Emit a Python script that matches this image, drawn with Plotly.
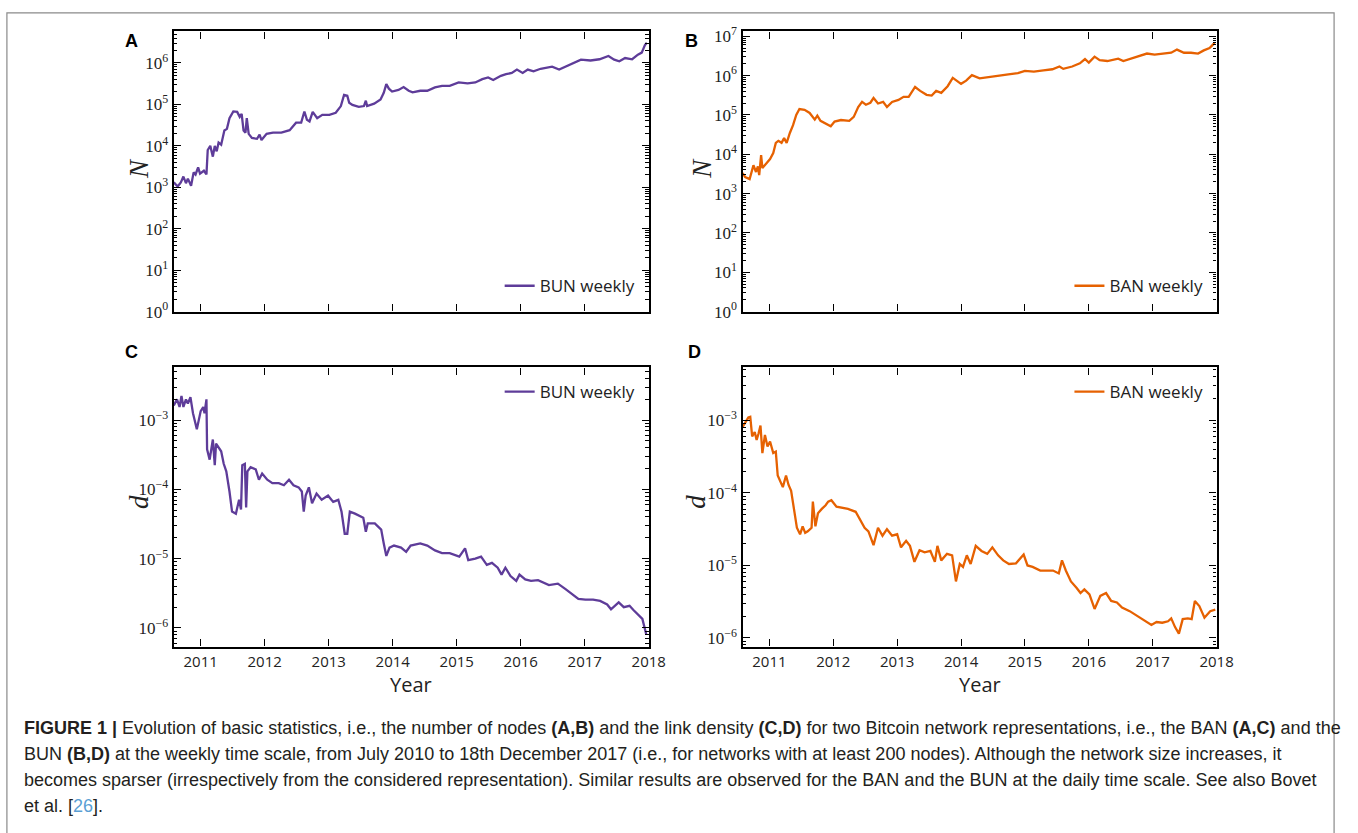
import plotly.graph_objects as go

# ---------------- data (decimal year, log10 value) ----------------
bun_N_year = [2010.58, 2010.64, 2010.69, 2010.73, 2010.77, 2010.80, 2010.85, 2010.89, 2010.92, 2010.96,
              2010.99, 2011.05, 2011.09, 2011.11, 2011.15, 2011.19, 2011.22, 2011.25, 2011.28, 2011.32,
              2011.37, 2011.41, 2011.45, 2011.51, 2011.57, 2011.61, 2011.64, 2011.67, 2011.70, 2011.72,
              2011.75, 2011.80, 2011.88, 2011.92, 2011.95, 2012.03, 2012.13, 2012.26, 2012.39, 2012.49,
              2012.57, 2012.62, 2012.66, 2012.70, 2012.75, 2012.82, 2012.90, 2013.01, 2013.11, 2013.19,
              2013.24, 2013.29, 2013.32, 2013.37, 2013.47, 2013.55, 2013.58, 2013.60, 2013.71, 2013.81,
              2013.86, 2013.90, 2013.94, 2013.99, 2014.09, 2014.17, 2014.25, 2014.31, 2014.43, 2014.54,
              2014.66, 2014.77, 2014.89, 2015.03, 2015.17, 2015.29, 2015.40, 2015.49, 2015.57, 2015.69,
              2015.77, 2015.86, 2015.94, 2016.03, 2016.11, 2016.20, 2016.31, 2016.49, 2016.60, 2016.71,
              2016.83, 2016.94, 2017.09, 2017.23, 2017.37, 2017.46, 2017.54, 2017.63, 2017.74, 2017.83,
              2017.89, 2017.94, 2017.97]
bun_N_log = [3.12, 3.02, 3.12, 3.26, 3.10, 3.21, 3.04, 3.36, 3.31, 3.48,
             3.33, 3.40, 3.31, 3.90, 4.00, 3.74, 4.00, 3.87, 4.08, 4.03,
             4.37, 4.41, 4.67, 4.83, 4.82, 4.70, 4.77, 4.37, 4.32, 4.67,
             4.29, 4.19, 4.17, 4.27, 4.14, 4.29, 4.32, 4.32, 4.38, 4.56,
             4.56, 4.83, 4.63, 4.59, 4.82, 4.67, 4.75, 4.75, 4.80, 4.96,
             5.23, 5.21, 5.04, 4.99, 4.94, 4.96, 5.09, 4.96, 5.02, 5.12,
             5.28, 5.49, 5.38, 5.31, 5.35, 5.42, 5.33, 5.29, 5.33, 5.33,
             5.41, 5.45, 5.45, 5.53, 5.51, 5.53, 5.61, 5.65, 5.59, 5.69,
             5.73, 5.76, 5.84, 5.76, 5.84, 5.80, 5.86, 5.91, 5.84, 5.92,
             6.00, 6.08, 6.06, 6.09, 6.17, 6.08, 6.04, 6.12, 6.09, 6.20,
             6.25, 6.43, 6.49]

ban_N_year = [2010.58, 2010.62, 2010.69, 2010.75, 2010.79, 2010.82, 2010.84, 2010.87, 2010.89, 2010.96,
              2011.01, 2011.06, 2011.10, 2011.14, 2011.19, 2011.23, 2011.27, 2011.32, 2011.37, 2011.42,
              2011.47, 2011.55, 2011.63, 2011.71, 2011.75, 2011.80, 2011.89, 2011.96, 2012.02, 2012.12,
              2012.25, 2012.32, 2012.39, 2012.45, 2012.51, 2012.58, 2012.63, 2012.70, 2012.78, 2012.84,
              2012.92, 2013.02, 2013.10, 2013.18, 2013.28, 2013.36, 2013.46, 2013.54, 2013.61, 2013.69,
              2013.79, 2013.87, 2013.93, 2014.00, 2014.08, 2014.17, 2014.29, 2014.46, 2014.60, 2014.74,
              2014.89, 2015.00, 2015.14, 2015.29, 2015.43, 2015.54, 2015.60, 2015.74, 2015.86, 2015.94,
              2016.00, 2016.09, 2016.17, 2016.29, 2016.46, 2016.54, 2016.69, 2016.80, 2016.91, 2017.03,
              2017.17, 2017.29, 2017.38, 2017.49, 2017.60, 2017.71, 2017.80, 2017.89, 2017.97]
ban_N_log = [3.52, 3.42, 3.37, 3.72, 3.55, 3.69, 3.47, 3.98, 3.65, 3.78,
             3.88, 4.03, 4.29, 4.34, 4.29, 4.41, 4.29, 4.54, 4.74, 5.00,
             5.15, 5.13, 5.05, 4.88, 4.98, 4.85, 4.78, 4.71, 4.83, 4.87,
             4.85, 4.95, 5.20, 5.33, 5.26, 5.31, 5.43, 5.29, 5.33, 5.20,
             5.33, 5.38, 5.46, 5.46, 5.71, 5.61, 5.51, 5.49, 5.61, 5.56,
             5.73, 5.94, 5.87, 5.79, 5.87, 6.01, 5.93, 5.96, 6.00, 6.03,
             6.06, 6.12, 6.10, 6.13, 6.16, 6.23, 6.17, 6.23, 6.31, 6.42,
             6.33, 6.48, 6.39, 6.37, 6.43, 6.37, 6.45, 6.50, 6.56, 6.53,
             6.56, 6.58, 6.66, 6.58, 6.58, 6.56, 6.64, 6.70, 6.83]

bun_d_year = [2010.58, 2010.63, 2010.67, 2010.70, 2010.73, 2010.77, 2010.80, 2010.84, 2010.88, 2010.94,
              2011.00, 2011.04, 2011.06, 2011.09, 2011.10, 2011.14, 2011.19, 2011.22, 2011.24, 2011.28,
              2011.32, 2011.36, 2011.40, 2011.45, 2011.49, 2011.55, 2011.60, 2011.63, 2011.65, 2011.69,
              2011.71, 2011.73, 2011.78, 2011.86, 2011.91, 2011.96, 2012.04, 2012.12, 2012.22, 2012.30,
              2012.38, 2012.45, 2012.53, 2012.58, 2012.61, 2012.64, 2012.69, 2012.74, 2012.81, 2012.89,
              2012.99, 2013.07, 2013.15, 2013.20, 2013.25, 2013.29, 2013.33, 2013.41, 2013.54, 2013.58,
              2013.61, 2013.72, 2013.82, 2013.86, 2013.90, 2013.95, 2014.02, 2014.13, 2014.21, 2014.28,
              2014.43, 2014.54, 2014.66, 2014.77, 2014.89, 2015.04, 2015.13, 2015.18, 2015.29, 2015.38,
              2015.47, 2015.55, 2015.64, 2015.70, 2015.76, 2015.84, 2015.93, 2015.98, 2016.07, 2016.16,
              2016.27, 2016.44, 2016.58, 2016.70, 2016.81, 2016.90, 2017.01, 2017.13, 2017.24, 2017.35,
              2017.41, 2017.53, 2017.61, 2017.70, 2017.76, 2017.84, 2017.90, 2017.96]
bun_d_log = [-2.79, -2.70, -2.81, -2.65, -2.81, -2.70, -2.76, -2.67, -2.90, -3.13,
             -2.87, -2.81, -2.90, -2.70, -3.42, -3.57, -3.28, -3.65, -3.34, -3.39,
             -3.45, -3.63, -3.74, -4.03, -4.32, -4.35, -4.15, -4.29, -3.65, -3.63,
             -4.26, -3.74, -3.68, -3.71, -3.86, -3.77, -3.86, -3.91, -3.91, -3.94,
             -3.86, -3.94, -3.97, -4.03, -4.32, -4.09, -3.97, -4.20, -4.06, -4.15,
             -4.09, -4.18, -4.15, -4.32, -4.64, -4.64, -4.32, -4.35, -4.41, -4.61,
             -4.49, -4.49, -4.58, -4.78, -4.96, -4.84, -4.81, -4.84, -4.90, -4.81,
             -4.78, -4.81, -4.88, -4.92, -4.92, -4.97, -4.85, -5.02, -5.00, -4.97,
             -5.09, -5.06, -5.13, -5.23, -5.13, -5.25, -5.32, -5.23, -5.30, -5.32,
             -5.31, -5.38, -5.36, -5.44, -5.51, -5.58, -5.59, -5.59, -5.61, -5.66,
             -5.73, -5.63, -5.70, -5.68, -5.74, -5.81, -5.87, -6.09]

ban_d_year = [2010.58, 2010.63, 2010.67, 2010.70, 2010.73, 2010.77, 2010.80, 2010.83, 2010.86, 2010.89,
              2010.93, 2010.97, 2011.01, 2011.06, 2011.10, 2011.13, 2011.17, 2011.21, 2011.26, 2011.30,
              2011.34, 2011.38, 2011.43, 2011.48, 2011.52, 2011.56, 2011.60, 2011.66, 2011.68, 2011.72,
              2011.76, 2011.82, 2011.88, 2011.92, 2011.97, 2012.05, 2012.14, 2012.23, 2012.35, 2012.43,
              2012.49, 2012.55, 2012.63, 2012.70, 2012.77, 2012.84, 2012.92, 2013.00, 2013.06, 2013.14,
              2013.20, 2013.27, 2013.35, 2013.43, 2013.52, 2013.59, 2013.63, 2013.69, 2013.78, 2013.86,
              2013.92, 2013.98, 2014.03, 2014.09, 2014.15, 2014.23, 2014.32, 2014.41, 2014.49, 2014.58,
              2014.66, 2014.75, 2014.86, 2014.98, 2015.04, 2015.12, 2015.24, 2015.35, 2015.44, 2015.53,
              2015.58, 2015.64, 2015.72, 2015.81, 2015.87, 2015.93, 2016.01, 2016.09, 2016.18, 2016.27,
              2016.35, 2016.44, 2016.52, 2016.64, 2016.75, 2016.87, 2016.98, 2017.06, 2017.15, 2017.24,
              2017.29, 2017.35, 2017.41, 2017.47, 2017.55, 2017.61, 2017.66, 2017.73, 2017.81, 2017.90,
              2017.98]
ban_d_log = [-3.09, -3.02, -2.96, -2.95, -3.22, -3.16, -3.27, -3.18, -3.07, -3.45,
             -3.20, -3.36, -3.29, -3.45, -3.43, -3.76, -3.84, -3.92, -3.76, -3.89,
             -3.97, -4.17, -4.48, -4.57, -4.46, -4.55, -4.53, -4.48, -4.12, -4.46,
             -4.28, -4.22, -4.17, -4.12, -4.10, -4.19, -4.21, -4.22, -4.26, -4.39,
             -4.48, -4.53, -4.72, -4.48, -4.59, -4.50, -4.59, -4.57, -4.75, -4.66,
             -4.73, -4.95, -4.79, -4.82, -4.80, -4.95, -4.73, -4.93, -4.84, -4.86,
             -5.22, -4.98, -5.02, -4.86, -4.98, -4.73, -4.80, -4.84, -4.75, -4.86,
             -4.93, -4.98, -4.97, -4.85, -5.00, -5.02, -5.07, -5.07, -5.07, -5.11,
             -4.93, -5.07, -5.22, -5.31, -5.38, -5.33, -5.40, -5.60, -5.42, -5.38,
             -5.49, -5.51, -5.58, -5.63, -5.69, -5.75, -5.82, -5.78, -5.79, -5.77,
             -5.73, -5.85, -5.94, -5.74, -5.73, -5.74, -5.49, -5.56, -5.72, -5.63,
             -5.61]

year_ticks = [2011, 2012, 2013, 2014, 2015, 2016, 2017, 2018]
series_names = ["BUN weekly", "BAN weekly"]

PURPLE = "#5e3c99"
ORANGE = "#e66101"

W, H = 1358, 833

def px_x(v):
    return v / W

def px_y(v):
    return 1 - v / H

fig = go.Figure()

panels = [
    (bun_N_year, bun_N_log, PURPLE, series_names[0], "x", "y", "legend"),
    (ban_N_year, ban_N_log, ORANGE, series_names[1], "x2", "y2", "legend2"),
    (bun_d_year, bun_d_log, PURPLE, series_names[0], "x3", "y3", "legend3"),
    (ban_d_year, ban_d_log, ORANGE, series_names[1], "x4", "y4", "legend4"),
]
for xs, ls, col, name, xa, ya, lg in panels:
    fig.add_trace(go.Scatter(
        x=xs, y=[10 ** v for v in ls], mode="lines", name=name,
        line=dict(color=col, width=2.3), xaxis=xa, yaxis=ya, legend=lg,
        showlegend=True))

left_dom = [px_x(176), px_x(657)]
right_dom = [px_x(752), px_x(1232)]
top_dom = [px_y(311), px_y(25)]
bot_dom = [px_y(653), px_y(368)]

def supexp(e):
    s = str(e).replace("-", "\u2212")
    return f"10<sup>{s}</sup>"

def minor_vals(lo, hi):
    out = []
    for d in range(lo - 1, hi + 1):
        for k in range(2, 10):
            out.append(k * 10 ** d)
    return out

serif = "Liberation Serif"
sans = "Open Sans"

def xaxis_cfg(domain, anchor, labels):
    return dict(domain=domain, anchor=anchor, range=[2010.58, 2018.0],
                tickvals=year_ticks, ticktext=[str(t) for t in year_ticks],
                showticklabels=labels, ticks="inside", ticklen=7, tickwidth=1.3,
                tickcolor="black", showline=True, linecolor="black", linewidth=2.4,
                mirror="allticks", showgrid=False, zeroline=False,
                tickfont=dict(family=sans, size=15, color="#222"))

def yaxis_cfg(domain, anchor, rng, exps):
    lo, hi = min(exps), max(exps)
    return dict(domain=domain, anchor=anchor, type="log", range=rng,
                tickvals=[10 ** e for e in exps], ticktext=[supexp(e) for e in exps],
                ticks="inside", ticklen=7, tickwidth=1.3, tickcolor="black",
                minor=dict(tickvals=minor_vals(lo, hi), ticks="inside", ticklen=3.5,
                           tickwidth=1, tickcolor="black", showgrid=False),
                showline=True, linecolor="black", linewidth=2.4, mirror="allticks",
                showgrid=False, zeroline=False,
                tickfont=dict(family=serif, size=17, color="#222"))

fig.update_layout(
    width=W, height=H, margin=dict(l=0, r=0, t=0, b=0),
    paper_bgcolor="white", plot_bgcolor="white",
    xaxis=xaxis_cfg(left_dom, "y", False),
    yaxis=yaxis_cfg(top_dom, "x", [0, 6.76], [0, 1, 2, 3, 4, 5, 6]),
    xaxis2=xaxis_cfg(right_dom, "y2", False),
    yaxis2=yaxis_cfg(top_dom, "x2", [0, 7.12], [0, 1, 2, 3, 4, 5, 6, 7]),
    xaxis3=xaxis_cfg(left_dom, "y3", True),
    yaxis3=yaxis_cfg(bot_dom, "x3", [-6.27, -2.24], [-6, -5, -4, -3]),
    xaxis4=xaxis_cfg(right_dom, "y4", True),
    yaxis4=yaxis_cfg(bot_dom, "x4", [-6.12, -2.27], [-6, -5, -4, -3]),
)

leg_common = dict(bgcolor="rgba(0,0,0,0)", borderwidth=0, xanchor="left", yanchor="middle",
                  font=dict(family=sans, size=17, color="#222"), itemwidth=30)
fig.update_layout(
    legend=dict(x=px_x(506), y=px_y(285), **leg_common),
    legend2=dict(x=px_x(1083), y=px_y(285), **leg_common),
    legend3=dict(x=px_x(506), y=px_y(393), **leg_common),
    legend4=dict(x=px_x(1083), y=px_y(393), **leg_common),
)

ann = []
for letter, x, y in [("A", 133, 35), ("B", 700, 35), ("C", 133, 352), ("D", 703, 352)]:
    ann.append(dict(text=f"<b>{letter}</b>", x=px_x(x), y=px_y(y), xref="paper", yref="paper",
                    showarrow=False, xanchor="center", yanchor="middle",
                    font=dict(family="Liberation Sans", size=18, color="black")))
for t, x, y in [("N", 140, 165), ("N", 711, 165), ("d", 140, 505), ("d", 705, 505)]:
    ann.append(dict(text=f"<i>{t}</i>", x=px_x(x), y=px_y(y), xref="paper", yref="paper",
                    showarrow=False, xanchor="center", yanchor="middle", textangle=-90,
                    font=dict(family=serif, size=27, color="#222")))
for x in [416, 992]:
    ann.append(dict(text="Year", x=px_x(x), y=px_y(692), xref="paper", yref="paper",
                    showarrow=False, xanchor="center", yanchor="middle",
                    font=dict(family=sans, size=20, color="#222")))

caption_lines = [
    "<b>FIGURE 1 |</b> Evolution of basic statistics, i.e., the number of nodes <b>(A,B)</b> and the link density <b>(C,D)</b> for two Bitcoin network representations, i.e., the BAN <b>(A,C)</b> and the",
    "BUN <b>(B,D)</b> at the weekly time scale, from July 2010 to 18th December 2017 (i.e., for networks with at least 200 nodes). Although the network size increases, it",
    "becomes sparser (irrespectively from the considered representation). Similar results are observed for the BAN and the BUN at the daily time scale. See also Bovet",
    "et al. [<span style='color:#5a9fd4'>26</span>].",
]
for i, line in enumerate(caption_lines):
    ann.append(dict(text=line, x=px_x(22), y=px_y(736 + 26.7 * i), xref="paper", yref="paper",
                    showarrow=False, xanchor="left", yanchor="middle", align="left",
                    font=dict(family="Liberation Sans", size=18, color="#231f20")))

fig.update_layout(annotations=ann)

fig.add_shape(type="rect", xref="paper", yref="paper",
              x0=px_x(7), x1=px_x(1351), y0=-0.05, y1=px_y(6),
              line=dict(color="#8a8a8a", width=1.2), fillcolor="rgba(0,0,0,0)", layer="below")

fig.write_html("out.html")
